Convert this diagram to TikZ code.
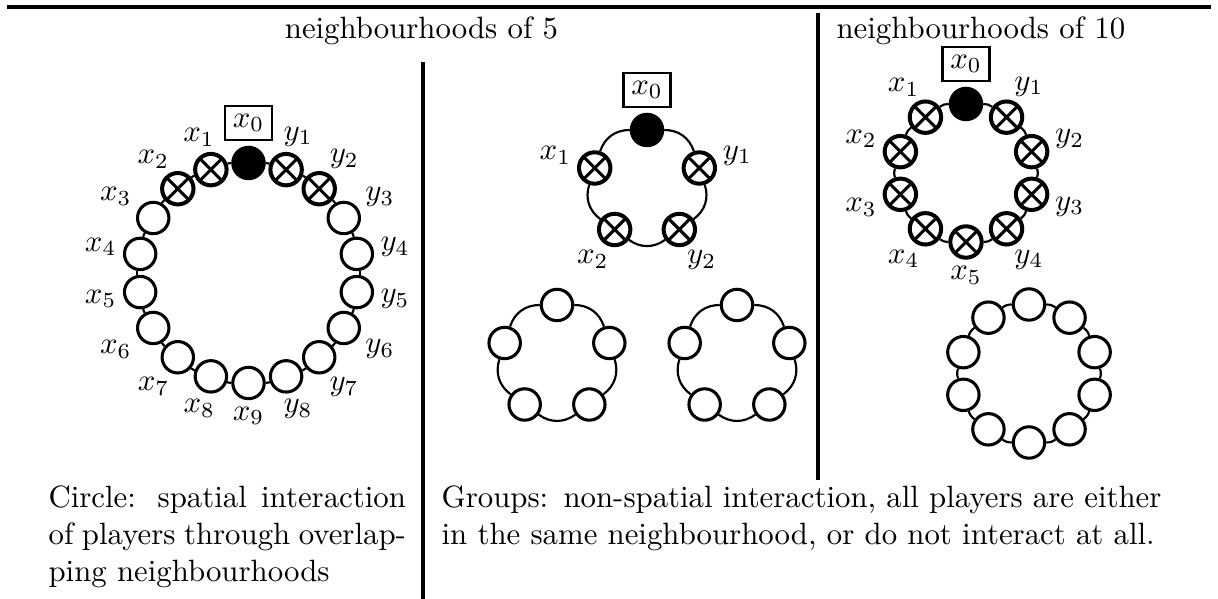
\documentclass[tikz,border=0pt]{standalone}
\usetikzlibrary{positioning}

\begin{document}
\begin{tikzpicture}[
  x=0.3247pt, y=0.3247pt,
  player/.style={circle, draw, line width=1pt, fill=white,
                 minimum size=10.2pt, inner sep=0pt},
  focal/.style={player, fill=black},
  neigh/.style={player, line width=1.3pt, path picture={
      \draw[line width=1pt]
        (path picture bounding box.north west) -- (path picture bounding box.south east)
        (path picture bounding box.north east) -- (path picture bounding box.south west);}},
  link/.style={line width=0.7pt},
  xbox/.style={draw, line width=0.8pt, inner sep=2.6pt},
  sep/.style={line width=1pt},
  every label/.style={inner sep=2pt},
]

\useasboundingbox (0,0) rectangle (1218,-599);

% ============================================================
% RULES AND HEADERS
% ============================================================
\coordinate (ruleL) at (7,-7);
\coordinate (ruleR) at (1211,-7);
\draw[sep] (ruleL) -- (ruleR);

\coordinate (sepAtop) at (423,-62);
\coordinate (sepAbot) at (423,-599);
\draw[sep] (sepAtop) -- (sepAbot);
\coordinate (sepBtop) at (818,-13);
\coordinate (sepBbot) at (818,-480);
\draw[sep] (sepBtop) -- (sepBbot);

\node[anchor=base, inner sep=0pt] (head5) at (421.5,-39) {neighbourhoods of 5};
\node[anchor=base west, inner sep=0pt] (head10) at (836,-39) {neighbourhoods of 10};

% ============================================================
% CIRCLE: 18 players, neighbourhood of 5
% ============================================================
\coordinate (cA) at (248.5,-273);
\node[focal] (a0) at ([shift={(90:110)}]cA) {};
\node[xbox, above=1.5pt of a0] (a0box) {$x_0$};
\foreach \k/\lbl/\sty in {
  1/x_1/neigh, 2/x_2/neigh, 3/x_3/player, 4/x_4/player, 5/x_5/player,
  6/x_6/player, 7/x_7/player, 8/x_8/player, 9/x_9/player,
  10/y_8/player, 11/y_7/player, 12/y_6/player, 13/y_5/player,
  14/y_4/player, 15/y_3/player, 16/y_2/neigh, 17/y_1/neigh}{
  \pgfmathtruncatemacro{\ang}{90+20*\k}
  \node[\sty, label={[anchor=\ang+180]\ang:$\lbl$}] (a\k)
    at ([shift={(\ang:110)}]cA) {};
}
\foreach \k in {0,...,17}{
  \pgfmathtruncatemacro{\n}{mod(\k+1,18)}
  \draw[link] (a\k) to[bend right=10] (a\n);
}

% ============================================================
% GROUPS OF 5
% ============================================================
\coordinate (cB) at (647,-185);
\node[focal] (b0) at ([shift={(90:55)}]cB) {};
\node[xbox, above=1.5pt of b0] (b0box) {$x_0$};
\foreach \k/\lbl in {1/x_1, 2/x_2, 3/y_2, 4/y_1}{
  \pgfmathtruncatemacro{\ang}{90+72*\k}
  \node[neigh, label={[anchor=\ang+180]\ang:$\lbl$}] (b\k)
    at ([shift={(\ang:55)}]cB) {};
}

\coordinate (cC) at (557,-360);
\coordinate (cD) at (737,-360);
\foreach \g in {C,D}{
  \foreach \k in {0,...,4}{
    \pgfmathtruncatemacro{\ang}{90+72*\k}
    \node[player] (\g\k) at ([shift={(\ang:55)}]c\g) {};
  }
}

\foreach \g in {b,C,D}{
  \foreach \k in {0,...,4}{
    \pgfmathtruncatemacro{\n}{mod(\k+1,5)}
    \draw[link] (\g\k) to[bend right=36] (\g\n);
  }
}

% ============================================================
% GROUPS OF 10
% ============================================================
\coordinate (cE) at (966,-173);
\node[focal] (e0) at ([shift={(90:69)}]cE) {};
\node[xbox, above=1.5pt of e0] (e0box) {$x_0$};
\foreach \k/\lbl in {1/x_1, 2/x_2, 3/x_3, 4/x_4, 5/x_5,
                     6/y_4, 7/y_3, 8/y_2, 9/y_1}{
  \pgfmathtruncatemacro{\ang}{90+36*\k}
  \node[neigh, label={[anchor=\ang+180]\ang:$\lbl$}] (e\k)
    at ([shift={(\ang:69)}]cE) {};
}

\coordinate (cF) at (1029,-373.5);
\foreach \k in {0,...,9}{
  \pgfmathtruncatemacro{\ang}{90+36*\k}
  \node[player] (F\k) at ([shift={(\ang:69)}]cF) {};
}

\foreach \g in {e,F}{
  \foreach \k in {0,...,9}{
    \pgfmathtruncatemacro{\n}{mod(\k+1,10)}
    \draw[link] (\g\k) to[bend right=18] (\g\n);
  }
}

% ============================================================
% CAPTIONS
% ============================================================
\node[anchor=base west, inner sep=0pt, text width=116pt, align=justify]
  (capcircle) at (48,-508)
  {Circle: spatial interaction\linebreak of players through overlap-\linebreak ping neighbourhoods};
\node[anchor=base west, inner sep=0pt, text width=250pt, align=left]
  (capgroups) at (441,-508)
  {Groups: non-spatial interaction, all players are either\\
   in the same neighbourhood, or do not interact at all.};

\end{tikzpicture}
\end{document}
